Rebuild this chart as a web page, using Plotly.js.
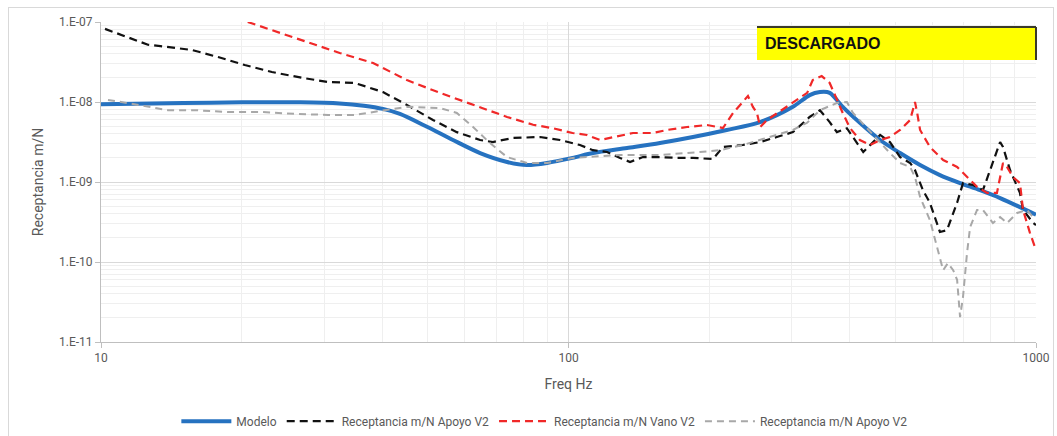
<!DOCTYPE html>
<html>
<head>
<meta charset="utf-8">
<script src="https://cdn.plot.ly/plotly-3.0.1.min.js"></script>
<style>
  html, body { margin: 0; padding: 0; background: #ffffff; }
  #wrap { position: relative; width: 1057px; height: 436px; overflow: hidden; }
  #chart { position: absolute; left: 0; top: 0; width: 1057px; height: 436px; }
  #frame { position: absolute; left: 8px; top: 7px; width: 1044px; height: 440px; border: 1px solid #d9d9d9; pointer-events: none; }
</style>
</head>
<body>
<div id="wrap">
  <div id="chart"></div>
  <div id="frame"></div>
</div>
<script>
// ---- Data (frequency in Hz, receptance in m/N) ----
const seriesNames = ["Modelo", "Receptancia m/N Apoyo V2", "Receptancia m/N Vano V2", "Receptancia m/N Apoyo V2"];

const modeloFreq = [10, 15, 20, 26.7, 32.4, 36.5, 40.1, 43.6, 49.8, 56.6, 64.7, 73.9, 81.5, 90, 102, 112.8, 133.4, 156.9, 184.6, 218, 257, 302, 328, 345, 362, 386, 420, 464, 512, 565, 623, 688, 759, 838, 1000];
const modeloVal = [9.4e-9, 9.7e-9, 9.9e-9, 9.9e-9, 9.6e-9, 9.0e-9, 8.2e-9, 7.1e-9, 4.9e-9, 3.35e-9, 2.3e-9, 1.78e-9, 1.63e-9, 1.73e-9, 2.0e-9, 2.3e-9, 2.66e-9, 3.07e-9, 3.65e-9, 4.47e-9, 5.6e-9, 8.7e-9, 1.22e-8, 1.33e-8, 1.30e-8, 8.7e-9, 5.5e-9, 3.35e-9, 2.3e-9, 1.63e-9, 1.22e-9, 9.7e-10, 7.9e-10, 6.3e-10, 3.9e-10];

const apoyoFreq = [10.2, 12.6, 13.4, 15.65, 17.8, 20.3, 23.2, 27.0, 30.6, 34.9, 40.1, 45.1, 51.3, 57.7, 64.7, 68.9, 76.1, 86.9, 95.9, 105.8, 112.8, 120.9, 128.9, 135.4, 144.3, 156.9, 170.7, 184.6, 203.8, 214, 236, 257, 279, 302, 328, 345, 362, 375, 394, 406, 427, 464, 487, 512, 538, 551, 573, 593, 623, 645, 678, 698, 733, 770, 797, 838, 850, 880, 924, 938, 985, 1000];
const apoyoVal = [8.2e-8, 5.2e-8, 5.0e-8, 4.47e-8, 3.65e-8, 2.9e-8, 2.37e-8, 2.0e-8, 1.78e-8, 1.73e-8, 1.33e-8, 9.2e-9, 5.96e-9, 4.2e-9, 3.35e-9, 3.16e-9, 3.55e-9, 3.65e-9, 3.35e-9, 2.9e-9, 2.5e-9, 2.37e-9, 2.0e-9, 1.78e-9, 2.05e-9, 2.05e-9, 2.0e-9, 2.0e-9, 1.94e-9, 2.74e-9, 2.9e-9, 3.16e-9, 3.65e-9, 4.2e-9, 6.5e-9, 7.9e-9, 5.6e-9, 4.2e-9, 4.7e-9, 3.65e-9, 2.37e-9, 3.87e-9, 3.16e-9, 2.05e-9, 1.73e-9, 1.41e-9, 7.9e-10, 5.5e-10, 2.37e-10, 2.5e-10, 5.5e-10, 9.7e-10, 9.2e-10, 7.9e-10, 1.41e-9, 3.16e-9, 2.74e-9, 1.41e-9, 7.3e-10, 4.5e-10, 3.1e-10, 2.9e-10];

const vanoFreq = [20.6, 26.0, 32.4, 38.2, 45.1, 53.1, 62.5, 73.9, 84, 92.6, 102, 109.5, 116.8, 124.5, 137.4, 151.6, 162.5, 179.3, 197.9, 214, 225, 242, 248, 253, 257, 266, 293, 324, 333, 348, 362, 375, 386, 400, 420, 442, 464, 487, 512, 538, 551, 557, 565, 593, 633, 678, 712, 748, 786, 825, 850, 867, 893, 924, 938, 971, 1000];
const vanoVal = [1.0e-7, 6.3e-8, 4.1e-8, 3.07e-8, 1.88e-8, 1.3e-8, 9.2e-9, 6.5e-9, 5.2e-9, 4.7e-9, 4.1e-9, 3.87e-9, 3.35e-9, 3.65e-9, 4.1e-9, 4.1e-9, 4.47e-9, 4.87e-9, 5.16e-9, 4.73e-9, 7.3e-9, 1.19e-8, 8.7e-9, 7.3e-9, 4.87e-9, 5.96e-9, 8.7e-9, 1.3e-8, 1.88e-8, 2.11e-8, 1.73e-8, 1.06e-8, 7.3e-9, 4.73e-9, 3.35e-9, 2.9e-9, 3.35e-9, 3.65e-9, 4.47e-9, 5.96e-9, 1.0e-8, 7.3e-9, 4.47e-9, 2.74e-9, 1.88e-9, 1.54e-9, 1.15e-9, 8.7e-10, 7.3e-10, 7.3e-10, 1.73e-9, 1.54e-9, 1.15e-9, 9.7e-10, 4.5e-10, 2.3e-10, 1.41e-10];

const apoyo2Freq = [10.35, 11.4, 13.9, 15.9, 18.7, 22.1, 26, 30.6, 34.9, 40.1, 45.1, 53.1, 57.7, 62.5, 67.9, 73.9, 81.5, 90, 102, 128.9, 156.9, 191, 211, 236, 302, 324, 345, 375, 394, 406, 435, 464, 487, 512, 538, 551, 565, 593, 614, 633, 648, 665, 678, 688, 698, 712, 723, 748, 770, 809, 838, 867, 911, 957, 985, 1000];
const apoyo2Val = [1.06e-8, 9.7e-9, 7.9e-9, 7.9e-9, 7.5e-9, 7.5e-9, 7.1e-9, 6.9e-9, 6.9e-9, 7.9e-9, 8.7e-9, 8.4e-9, 7.3e-9, 4.87e-9, 3.07e-9, 2.05e-9, 1.73e-9, 1.73e-9, 2.0e-9, 2.18e-9, 2.18e-9, 2.37e-9, 2.5e-9, 2.9e-9, 4.47e-9, 5.5e-9, 7.9e-9, 9.7e-9, 1.0e-8, 7.3e-9, 4.73e-9, 3.07e-9, 2.3e-9, 1.73e-9, 1.54e-9, 1.15e-9, 6.5e-10, 3.35e-10, 1.54e-10, 7.9e-11, 9.7e-11, 7.9e-11, 6e-11, 2.05e-11, 3.65e-11, 1.3e-10, 2.74e-10, 4.47e-10, 4.47e-10, 3.07e-10, 3.65e-10, 3.07e-10, 4.1e-10, 4.47e-10, 3.65e-10, 3.8e-10];

const xTickVals = [10, 100, 1000];
const xTickText = ["10", "100", "1000"];
const yTickVals = [1e-7, 1e-8, 1e-9, 1e-10, 1e-11];
const yTickText = ["1.E-07", "1.E-08", "1.E-09", "1.E-10", "1.E-11"];

const xTitle = "Freq Hz";
const yTitle = "Receptancia m/N";
const boxLabel = "DESCARGADO";

const FONT = "Liberation Sans Narrow, Roboto, Noto Sans, sans-serif";

const traces = [
  { x: modeloFreq, y: modeloVal, name: seriesNames[0], type: "scatter", mode: "lines",
    line: { color: "#2672c0", width: 4, shape: "spline", smoothing: 0.8 } },
  { x: apoyoFreq, y: apoyoVal, name: seriesNames[1], type: "scatter", mode: "lines",
    line: { color: "#111111", width: 2.2, dash: "8px,5px" } },
  { x: vanoFreq, y: vanoVal, name: seriesNames[2], type: "scatter", mode: "lines",
    line: { color: "#f02828", width: 2.2, dash: "8px,5px" } },
  { x: apoyo2Freq, y: apoyo2Val, name: seriesNames[3], type: "scatter", mode: "lines",
    line: { color: "#a8a8a8", width: 2, dash: "7px,5px" } }
];

const layout = {
  width: 1057, height: 436,
  paper_bgcolor: "#ffffff", plot_bgcolor: "#ffffff",
  margin: { l: 101, r: 21, t: 22, b: 94, autoexpand: false },
  font: { family: FONT, color: "#595959", size: 12 },
  showlegend: true,
  legend: { orientation: "h", x: 0.515, xanchor: "center", xref: "container",
            y: 0.034, yanchor: "middle", yref: "container", itemwidth: 50,
            font: { family: FONT, size: 12, color: "#595959" }, bgcolor: "rgba(0,0,0,0)" },
  xaxis: {
    type: "log", range: [1, 3], automargin: false,
    tickvals: xTickVals, ticktext: xTickText,
    ticks: "outside", ticklen: 5, tickcolor: "#bfbfbf",
    showline: true, linecolor: "#bfbfbf", linewidth: 1,
    showgrid: true, gridcolor: "#d9d9d9", gridwidth: 1,
    minor: { dtick: "D1", showgrid: true, gridcolor: "#efefef", gridwidth: 1, ticks: "" },
    zeroline: false,
    tickfont: { family: FONT, size: 12, color: "#595959" },
    title: { text: xTitle, font: { family: FONT, size: 14, color: "#595959" }, standoff: 14 }
  },
  yaxis: {
    type: "log", range: [-11, -7], automargin: false,
    tickvals: yTickVals, ticktext: yTickText,
    ticks: "outside", ticklen: 5, tickcolor: "#bfbfbf",
    showline: true, linecolor: "#bfbfbf", linewidth: 1,
    showgrid: true, gridcolor: "#d9d9d9", gridwidth: 1,
    minor: { dtick: "D1", showgrid: true, gridcolor: "#efefef", gridwidth: 1, ticks: "" },
    zeroline: false,
    tickfont: { family: FONT, size: 12, color: "#595959" },
    title: { text: yTitle, font: { family: FONT, size: 14, color: "#595959" }, standoff: 12 }
  },
  shapes: [
    { type: "rect", xref: "paper", yref: "paper", x0: 0.7016, x1: 1.0, y0: 0.881, y1: 0.984,
      fillcolor: "#ffff00", line: { width: 0 }, layer: "above" },
    { type: "line", xref: "paper", yref: "paper", x0: 0.7016, x1: 1.0, y0: 0.984, y1: 0.984,
      line: { color: "#3a3a2a", width: 2 }, layer: "above" },
    { type: "line", xref: "paper", yref: "paper", x0: 1.0, x1: 1.0, y0: 0.881, y1: 0.984,
      line: { color: "#3a3a2a", width: 2 }, layer: "above" }
  ],
  annotations: [
    { xref: "paper", yref: "paper", x: 0.708, y: 0.932, xanchor: "left", yanchor: "middle",
      text: "<b>" + boxLabel + "</b>", showarrow: false,
      font: { family: "Liberation Sans, Arial, sans-serif", size: 16, color: "#111111" } }
  ]
};

Plotly.newPlot("chart", traces, layout, { displayModeBar: false, staticPlot: true });
</script>
</body>
</html>
